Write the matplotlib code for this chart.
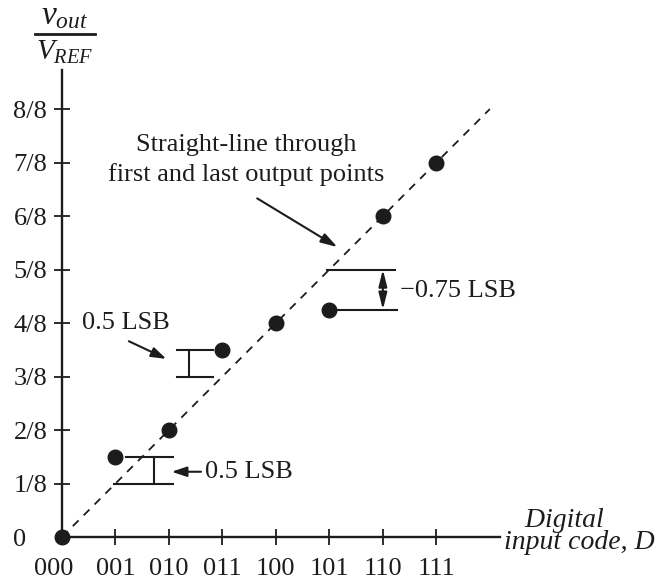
import matplotlib
matplotlib.use("Agg")
import matplotlib.pyplot as plt
import matplotlib.transforms as mtrans
import numpy as np

plt.rcParams['font.family'] = ['Liberation Serif', 'DejaVu Serif']
plt.rcParams['mathtext.fontset'] = 'custom'
plt.rcParams['mathtext.rm'] = 'Liberation Serif'
plt.rcParams['mathtext.it'] = 'Liberation Serif:italic'
plt.rcParams['mathtext.bf'] = 'Liberation Serif:bold'

# ---- data ----
codes = [0, 1, 2, 3, 4, 5, 6, 7]
code_labels = ['000', '001', '010', '011', '100', '101', '110', '111']
outputs_lsb = [0, 1.5, 2, 3.5, 4, 4.25, 6, 7]          # output in units of 1/8
ytick_vals = [0, 1, 2, 3, 4, 5, 6, 7, 8]
ytick_labels = ['0', '1/8', '2/8', '3/8', '4/8', '5/8', '6/8', '7/8', '8/8']

outputs = np.array(outputs_lsb) / 8.0
ink = '#1c1c1c'
FS = 19

fig = plt.figure(figsize=(6.62, 5.83), dpi=100)
ax = fig.add_axes([62/662, 46/583, 438/662, 467/583])
ax.set_xlim(0, 8.19)
ax.set_ylim(0, 8.73/8)

for s in ['top', 'right']:
    ax.spines[s].set_visible(False)
for s in ['left', 'bottom']:
    ax.spines[s].set_linewidth(1.7)
    ax.spines[s].set_color(ink)

ax.set_xticks(codes)
ax.set_xticklabels(code_labels, fontsize=FS, color=ink)
ax.set_yticks(np.array(ytick_vals) / 8.0)
ax.set_yticklabels(ytick_labels, fontsize=FS, color=ink)
ax.tick_params(axis='both', direction='inout', length=12, width=1.3, color=ink)
ax.tick_params(axis='x', pad=9)
ax.tick_params(axis='y', pad=29)
for lbl in ax.get_yticklabels():
    lbl.set_horizontalalignment('left')
# no tick mark at the origin; shift "000" slightly left
ax.xaxis.get_major_ticks()[0].tick1line.set_visible(False)
ax.yaxis.get_major_ticks()[0].tick1line.set_visible(False)
lbl0 = ax.get_xticklabels()[0]
lbl0.set_transform(lbl0.get_transform() +
                   mtrans.ScaledTranslation(-8/100, 0, fig.dpi_scale_trans))

# straight line through first and last output points
slope = (outputs[-1] - outputs[0]) / (codes[-1] - codes[0])
xl = np.array([codes[0], 8.0])
ax.plot(xl, outputs[0] + slope * (xl - codes[0]), ls=(0, (4.5, 4)), lw=1.3,
        color=ink, clip_on=False)

# output points
ax.plot(codes, outputs, 'o', ms=10.5, color=ink, clip_on=False, zorder=5)

lw = 1.5
arrow1 = dict(arrowstyle='-|>,head_length=0.9,head_width=0.3', color=ink,
              lw=1.5, shrinkA=0, shrinkB=0)
# bracket at code 001 (0.5 LSB)
ax.plot([1.2, 2.07], [1.5/8, 1.5/8], color=ink, lw=lw)
ax.plot([0.97, 2.07], [1/8, 1/8], color=ink, lw=lw)
ax.plot([1.72, 1.72], [1/8, 1.5/8], color=ink, lw=lw)
ax.annotate('', xy=(2.05, 1.22/8), xytext=(2.6, 1.22/8), arrowprops=arrow1)
ax.text(2.67, 1.22/8, '0.5 LSB', fontsize=FS, color=ink, ha='left', va='center')

# bracket at code 011 (0.5 LSB)
ax.plot([2.15, 2.82], [3.5/8, 3.5/8], color=ink, lw=lw)
ax.plot([2.15, 2.82], [3/8, 3/8], color=ink, lw=lw)
ax.plot([2.37, 2.37], [3/8, 3.5/8], color=ink, lw=lw)
ax.annotate('', xy=(1.95, 3.33/8), xytext=(1.25, 3.66/8), arrowprops=arrow1)
ax.text(1.2, 4.0/8, '0.5 LSB', fontsize=FS, color=ink, ha='center', va='center')

# bracket at code 101 (-0.75 LSB)
ax.plot([4.95, 6.22], [5/8, 5/8], color=ink, lw=lw)
ax.plot([5.12, 6.26], [4.25/8, 4.25/8], color=ink, lw=lw)
ax.annotate('', xy=(6.0, 5/8), xytext=(6.0, 4.25/8),
            arrowprops=dict(arrowstyle='<|-|>,head_length=1.0,head_width=0.25',
                            color=ink, lw=1.5, shrinkA=0, shrinkB=0))
ax.text(6.32, 4.6/8, '\u22120.75 LSB', fontsize=FS, color=ink, ha='left', va='center')

# straight-line label
ax.text(3.45, 7.33/8, 'Straight-line through', fontsize=FS, color=ink,
        ha='center', va='center')
ax.text(3.45, 6.77/8, 'first and last output points', fontsize=FS, color=ink,
        ha='center', va='center')
ax.annotate('', xy=(5.15, 5.42/8), xytext=(3.65, 6.33/8),
            arrowprops=dict(arrowstyle='-|>,head_length=1.0,head_width=0.3',
                            color=ink, lw=1.5, shrinkA=0, shrinkB=0))

# axis titles
ax.text(8.26, 0.1/8, '   Digital\ninput code, D', fontsize=FS + 1, color=ink,
        style='italic', ha='left', va='center', multialignment='left',
        linespacing=0.82)

ax.text(0.05, 9.74/8, r'$v_{out}$', fontsize=FS + 5, color=ink,
        ha='center', va='center')
ax.plot([-0.5, 0.62], [9.4/8, 9.4/8], color=ink, lw=2.0, clip_on=False)
ax.text(0.05, 9.05/8, r'$V_{REF}$', fontsize=FS + 2, color=ink,
        ha='center', va='center')

fig.savefig('out.png', dpi=100, facecolor='white')
